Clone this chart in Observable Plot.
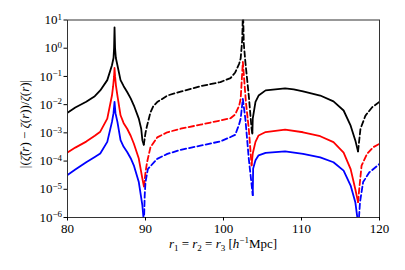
<!DOCTYPE html>
<html><head><meta charset="utf-8">
<script src="https://cdn.jsdelivr.net/npm/d3@7"></script>
<script src="https://cdn.jsdelivr.net/npm/@observablehq/plot@0.6"></script>
<style>body{margin:0;background:#fff} svg, svg text{font-family:"Liberation Serif","Times New Roman","DejaVu Serif",serif !important;}</style>
</head><body><div id="chart"></div>
<script>
// [r, |relative difference|]; segments split at sign changes
const blackA = [[80,5.13e-3],[81,7.9e-3],[82.4,1.26e-2],[83.5,2.0e-2],[84.2,3.2e-2],[85.1,7.4e-2],[85.7,2.5e-1],[85.9,4.5e-1],[85.97,1.0],[86.03,5.5],[86.1,1.0],[86.2,4.5e-1],[86.4,2.5e-1],[86.8,7.4e-2],[87.2,4.5e-2],[87.65,2.8e-2],[88.1,1.66e-2],[88.5,9.5e-3],[89.14,3.2e-3],[89.45,1.4e-3],[89.6,5.5e-4],[89.78,3.8e-4]];
const blackB = [[89.78,3.8e-4],[90,1e-3],[90.2,1.8e-3],[90.64,5.4e-3],[91,8.9e-3],[91.5,1.23e-2],[92.8,2.1e-2],[94.5,2.9e-2],[97.05,4.5e-2],[99.6,6.3e-2],[100.9,8.7e-2],[101.5,1.38e-1],[102,2.8e-1],[102.2,4.3e-1],[102.4,2.0],[102.5,2.5e1],[102.6,1.5],[102.8,3.3e-1],[103.24,2.1e-2],[103.6,1.4e-3],[103.7,9.5e-4]];
const blackC = [[103.7,9.5e-4],[103.75,3.2e-3],[104.1,1.26e-2],[104.5,2.1e-2],[105.4,3.2e-2],[107.9,3.8e-2],[109,3.5e-2],[110.2,2.95e-2],[112.4,2.1e-2],[114.1,1.3e-2],[115.4,6.2e-3],[116.3,1.8e-3],[116.9,5.4e-4],[117.25,2.2e-4]];
const blackD = [[117.25,2.2e-4],[117.56,1.4e-3],[118.2,4.1e-3],[119.06,8.1e-3],[120,1.26e-2]];

const redA = [[80,2.0e-4],[81,3.0e-4],[82.4,4.9e-4],[83.5,7.9e-4],[84.2,1.1e-3],[85.1,3.2e-3],[85.7,2.1e-2],[85.85,4.5e-2],[85.97,1e-1],[86.03,2.0e-1],[86.1,1e-1],[86.22,4.5e-2],[86.4,2.1e-2],[86.8,4.2e-3],[87.2,2.2e-3],[87.65,1.4e-3],[88.1,7.9e-4],[88.5,4.2e-4],[89.14,1.23e-4],[89.6,2.4e-5],[89.8,1.26e-5]];
const redB = [[89.8,1.26e-5],[90,4.0e-5],[90.2,9.1e-5],[90.64,3.1e-4],[91.5,6.9e-4],[92.8,1.05e-3],[94.5,1.4e-3],[97.05,1.95e-3],[99.6,2.75e-3],[100.9,3.3e-3],[101.5,4.5e-3],[102,9e-3],[102.2,1.6e-2],[102.48,3.3e-1],[102.87,1.26e-2],[103.24,1.4e-3],[103.6,7.1e-5]];
const redC = [[103.6,7.1e-5],[103.75,1.86e-4],[104.1,4.8e-4],[104.5,8.1e-4],[105.4,1.07e-3],[107.9,1.3e-3],[110.2,1.05e-3],[112.4,7.6e-4],[114.1,4.7e-4],[115.4,2.0e-4],[116.3,5.2e-5],[116.9,1.0e-5],[117.25,3.5e-6]];
const redD = [[117.25,3.5e-6],[117.4,1e-5],[117.7,6.9e-5],[118.4,1.8e-4],[119.2,3.1e-4],[120,4.1e-4]];

const blueA = [[80,3.2e-5],[81,5.0e-5],[82.4,9.1e-5],[83.5,1.4e-4],[84.2,1.86e-4],[85.1,4.8e-4],[85.7,2.45e-3],[85.9,5.0e-3],[86.03,1.26e-2],[86.15,5.0e-3],[86.4,2.45e-3],[86.8,5.5e-4],[87.2,3.2e-4],[87.65,2.1e-4],[88.1,1.26e-4],[88.5,7.1e-5],[89.14,1.8e-5],[89.6,2.7e-6],[89.8,6.3e-7]];
const blueB = [[89.8,6.3e-7],[89.9,6.3e-6],[90,1.8e-5],[90.3,5.2e-5],[91.5,1.2e-4],[92.8,1.8e-4],[94.5,2.5e-4],[97.05,3.5e-4],[99.6,5.0e-4],[100.9,7.1e-4],[101.5,8.5e-4],[102,2.0e-3],[102.2,3.2e-3],[102.48,1.6e-2],[102.8,3.2e-3],[103.24,1.23e-4],[103.75,6.2e-6]];
const blueC = [[103.75,6.2e-6],[103.8,5.4e-5],[104.1,1.07e-4],[104.5,1.6e-4],[105.4,1.95e-4],[107.9,2.2e-4],[110.2,1.8e-4],[112.4,1.35e-4],[114.1,9.1e-5],[115.4,4.6e-5],[116.3,1.35e-5],[116.9,3.5e-6],[117.3,5e-7]];
const blueD = [[117.3,5e-7],[117.5,3.5e-6],[117.9,1.8e-5],[118.7,4.0e-5],[120,7.9e-5]];

const seriesNames = ["black","red","blue"];
const seriesColors = ["#000000","#ff0000","#0000ff"];
const yTicks = [1e-6,1e-5,1e-4,1e-3,1e-2,1e-1,1e0,1e1];
const xTicks = [80,90,100,110,120];

const segments = [
  {series:"black",dashed:false,pts:blackA},{series:"black",dashed:true,pts:blackB},
  {series:"black",dashed:false,pts:blackC},{series:"black",dashed:true,pts:blackD},
  {series:"red",dashed:false,pts:redA},{series:"red",dashed:true,pts:redB},
  {series:"red",dashed:false,pts:redC},{series:"red",dashed:true,pts:redD},
  {series:"blue",dashed:false,pts:blueA},{series:"blue",dashed:true,pts:blueB},
  {series:"blue",dashed:false,pts:blueC},{series:"blue",dashed:true,pts:blueD}
];
const rows = segments.flatMap((s,i)=>s.pts.map(([x,y])=>({x,y,series:s.series,dashed:s.dashed,seg:i})));

const FONT = "Liberation Serif, Times New Roman, DejaVu Serif, serif";
const plot = Plot.plot({
  width:405, height:270,
  marginLeft:67, marginRight:26, marginTop:19.5, marginBottom:53,
  style:{fontFamily:FONT, fontSize:"13px", background:"#fff", color:"#000"},
  x:{domain:[80,120]},
  y:{type:"log", domain:[1e-6,10]},
  color:{domain:seriesNames, range:seriesColors},
  marks:[
    Plot.line(rows.filter(d=>!d.dashed),{x:"x",y:"y",z:"seg",stroke:"series",strokeWidth:1.8,clip:true}),
    Plot.line(rows.filter(d=>d.dashed),{x:"x",y:"y",z:"seg",stroke:"series",strokeWidth:1.8,strokeDasharray:"5.5,3",clip:true}),
    Plot.frame({stroke:"#333"}),
    Plot.axisX({ticks:xTicks, tickSize:3.5, tickPadding:3, label:null, tickFormat:d=>String(d)}),
    Plot.axisY({ticks:yTicks, tickSize:3.5, tickPadding:2, label:null, tickFormat:d=>String(Math.round(Math.log10(d)))})
  ]
});
document.getElementById("chart").appendChild(plot);
const svg = d3.select(plot);
svg.selectAll('g[aria-label="y-axis tick label"] text').each(function(){
  const e = +this.textContent;
  const t = d3.select(this);
  t.text("10");
  t.append("tspan").attr("dy","-0.5em").attr("font-size","9px").text(e < 0 ? "\u2212" + (-e) : String(e));
});
// x label
const xl = svg.append("text").attr("x",223).attr("y",248).attr("text-anchor","middle")
  .attr("font-family",FONT).attr("font-size","13px");
const parts = [["r","i"],["1","s"],[" = ","n"],["r","i"],["2","s"],[" = ","n"],["r","i"],["3","s"],[" [","n"],["h","i"],["\u22121","p"],["Mpc]","n"]];
let prev = "n";
const off = {n:0,i:0,s:3,p:-5};
for (const [s,k] of parts) {
  const ts = xl.append("tspan").text(s);
  const d = off[k] - off[prev];
  if (d) ts.attr("dy", d);
  if (k==="i") ts.attr("font-style","italic");
  if (k==="s"||k==="p") ts.attr("font-size","9px");
  prev = k;
}
// y label
const yl = svg.append("text").attr("transform","translate(29,124) rotate(-90)").attr("text-anchor","middle")
  .attr("font-family",FONT).attr("font-size","13px");
const yparts = [["|(","n"],["\u03B6\u0303","i"],["(","n"],["r","i"],[") \u2212 ","n"],["\u03B6","i"],["(","n"],["r","i"],["))/","n"],["\u03B6","i"],["(","n"],["r","i"],[")|","n"]];
for (const [s,k] of yparts) {
  const ts = yl.append("tspan").text(s);
  if (k==="i") ts.attr("font-style","italic");
}
</script>
</body></html>
